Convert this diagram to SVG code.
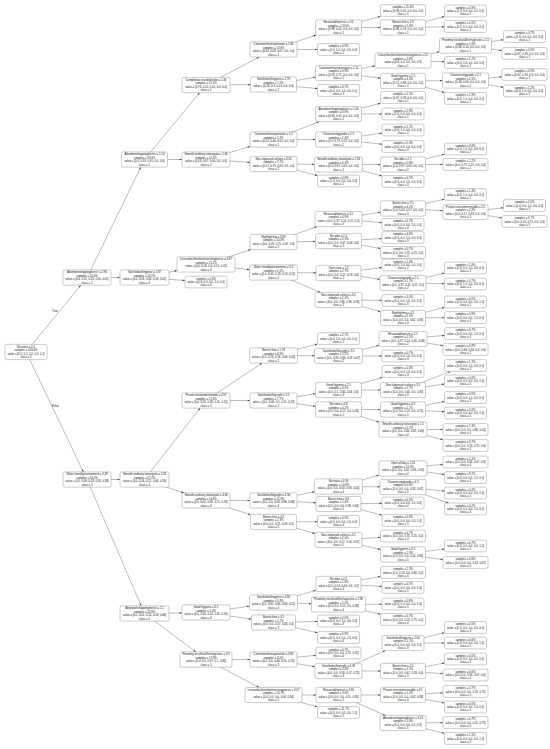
<svg xmlns="http://www.w3.org/2000/svg" width="550" height="749" viewBox="0 0 550 749">
<style>
.n rect{fill:#fff;stroke:#8a8a8a;stroke-width:.45}
text{font-family:"Liberation Sans",Arial,Helvetica,sans-serif;font-size:2.8px;text-anchor:middle;fill:#111}
#edges path{fill:none;stroke:#555;stroke-width:.4;marker-end:url(#ah)}
</style>
<defs>
<marker id="ah" markerUnits="userSpaceOnUse" markerWidth="3" markerHeight="2" refX="2.4" refY="0.8" orient="auto" overflow="visible"><path d="M0,0L2.4,0.8L0,1.6z" fill="#333"/></marker>
</defs>
<rect width="550" height="749" fill="#fff"/>
<g id="edges">
<path d="M26,352L80.8,285.1"/><path d="M26,352L83.4,471.9"/>
<path d="M87,277.5L140.8,167.1"/><path d="M87,277.5L120,277.5"/><path d="M87,479.5L120,479.5"/><path d="M87,479.5L141.2,605.9"/>
<path d="M144.5,159.5L199.7,92.6"/><path d="M144.5,159.5L182,159.5"/><path d="M144.5,277.5L177,270.6"/><path d="M144.5,277.5L185,280.5"/>
<path d="M144.5,479.5L200.1,408.1"/><path d="M144.5,479.5L183.7,492.9"/><path d="M144.5,613.5L182,612.9"/><path d="M144.5,613.5L195.8,651.9"/>
<path d="M206,85L259.1,57.1"/><path d="M206,85L250.5,84.7"/><path d="M206,159.5L250,146.5"/><path d="M206,159.5L250,162.4"/>
<path d="M206,264.5L250.7,249.6"/><path d="M206,264.5L249.5,269.7"/><path d="M206,400.5L262.1,363.1"/><path d="M206,400.5L250,400.5"/>
<path d="M206,500.5L250,500.5"/><path d="M206,500.5L250.5,514.7"/><path d="M206,612.5L249.5,606.1"/><path d="M206,612.5L251.5,619.2"/>
<path d="M206,659.5L250,659.5"/><path d="M206,659.5L259.1,687.4"/>
<path d="M273.5,49.5L316.1,35.1"/><path d="M273.5,49.5L317.5,49.5"/><path d="M273.5,84.5L315.5,77.1"/><path d="M273.5,84.5L317.5,88.6"/>
<path d="M273.5,139.5L319.1,121.6"/><path d="M273.5,139.5L315.5,139.5"/><path d="M273.5,164L314.5,164.3"/><path d="M273.5,164L317.5,175.5"/>
<path d="M273.5,242L317,226.6"/><path d="M273.5,242L315.5,241.4"/><path d="M273.5,272.5L316,272.8"/><path d="M273.5,272.5L320.5,292.4"/>
<path d="M273.5,355.5L317.5,344"/><path d="M273.5,355.5L314.5,355.8"/><path d="M273.5,400.5L315.5,393.7"/><path d="M273.5,400.5L315.5,406.3"/>
<path d="M273.5,500.5L314.5,491.7"/><path d="M273.5,500.5L316,502.8"/><path d="M273.5,522L317.5,521.7"/><path d="M273.5,522L315,533.5"/>
<path d="M273.5,602.5L316,590.4"/><path d="M273.5,602.5L311.5,603.7"/><path d="M273.5,622.5L317.5,621.5"/><path d="M273.5,622.5L317.5,632.7"/>
<path d="M273.5,659.5L316,655.3"/><path d="M273.5,659.5L315,666.8"/><path d="M273.5,695L316,695"/><path d="M273.5,695L317.5,706.9"/>
<path d="M338.5,27.5L380.6,16.4"/><path d="M338.5,27.5L380.5,27.5"/><path d="M338.5,73L375,65.9"/><path d="M338.5,73L380.5,78.2"/>
<path d="M338.5,114L380.5,103.3"/><path d="M338.5,114L382,114"/><path d="M338.5,139.5L382,133.1"/><path d="M338.5,139.5L382,144.2"/>
<path d="M338.5,164.5L380.5,164.5"/><path d="M338.5,164.5L382,176"/><path d="M338.5,219L380.5,212.2"/><path d="M338.5,219L382,222.7"/>
<path d="M338.5,241L382,238.6"/><path d="M338.5,241L380.5,248.5"/><path d="M338.5,273L382,267.6"/><path d="M338.5,273L380,279.4"/>
<path d="M338.5,300L382,300.3"/><path d="M338.5,300L380.5,311.7"/><path d="M338.5,356L379,345.3"/><path d="M338.5,356L382,356"/>
<path d="M338.5,390L382.4,377.4"/><path d="M338.5,390L380.5,390"/><path d="M338.5,409.5L380.5,409.5"/><path d="M338.5,409.5L379,422.1"/>
<path d="M338.5,486.5L379,475.2"/><path d="M338.5,486.5L380,486.8"/><path d="M338.5,504L382,503.3"/><path d="M338.5,504L382,515.1"/>
<path d="M338.5,540L380.5,537.4"/><path d="M338.5,540L380.5,549.4"/><path d="M338.5,584L380.5,576.5"/><path d="M338.5,584L382,586.4"/>
<path d="M338.5,604.5L382,604.2"/><path d="M338.5,604.5L380.5,614.3"/><path d="M338.5,671L385.5,650.6"/><path d="M338.5,671L380.5,671"/>
<path d="M338.5,695L380.5,695"/><path d="M338.5,695L385.5,715.4"/>
<path d="M403,27.5L444.5,16.5"/><path d="M403,27.5L444.5,26.8"/><path d="M403,60.5L439.5,51.7"/><path d="M403,60.5L444.5,61.8"/>
<path d="M403,81L442.5,80.7"/><path d="M403,81L444.5,92.6"/><path d="M403,164.5L444.5,154.2"/><path d="M403,164.5L443,164.5"/>
<path d="M403,208.5L444.5,199.2"/><path d="M403,208.5L443,210.7"/><path d="M403,283L444.5,273"/><path d="M403,283L444.5,283.7"/>
<path d="M403,318L444.5,307.4"/><path d="M403,318L444.5,317.7"/><path d="M403,339L444.5,335.4"/><path d="M403,339L443,345.7"/>
<path d="M403,390L450.4,371.4"/><path d="M403,390L444.5,384"/><path d="M403,409.5L444.5,401.5"/><path d="M403,409.5L444.5,411.8"/>
<path d="M403,429.5L443,429.5"/><path d="M403,429.5L443,439.7"/><path d="M403,468.5L443,464.3"/><path d="M403,468.5L444.5,474.5"/>
<path d="M403,487L444.5,491"/><path d="M403,487L448.8,503.1"/><path d="M403,554.5L444.5,548.9"/><path d="M403,554.5L443,559.6"/>
<path d="M403,643L444.5,632.7"/><path d="M403,643L444.5,643"/><path d="M403,671L444.5,663"/><path d="M403,671L443,673.6"/>
<path d="M403,695L443,692.8"/><path d="M403,695L444.5,703"/><path d="M403,723L443,722.7"/><path d="M403,723L444.5,733.3"/>
<path d="M465.5,45.5L503.5,39.7"/><path d="M465.5,45.5L502,50.5"/><path d="M465.5,80.5L502,76.8"/><path d="M465.5,80.5L503.5,87.3"/>
<path d="M465.5,212L503.5,207.8"/><path d="M465.5,212L502,217.9"/>
<text x="55" y="312">True</text>
<text x="55.5" y="407">False</text>
</g>

<g id="R" class="n" transform="translate(26,352)"><rect x="-21" y="-7.6" width="42" height="15.2" rx="1.8"/><text y="-4.04">No noise ≤ 2.4</text><text y="-0.68">samples = 100.0%</text><text y="2.68">value = [0.2, 0.2, 0.2, 0.2, 0.2]</text><text y="6.04">class = 2</text></g>

<g id="A" class="n" transform="translate(87,277.5)"><rect x="-24" y="-7.6" width="48" height="15.2" rx="1.8"/><text y="-4.04">Abundantshoppingdistrict ≤ 2.96</text><text y="-0.68">samples = 50.0%</text><text y="2.68">value = [0.4, 0.31, 0.22, 0.05, 0.01]</text><text y="6.04">class = 1</text></g>
<g id="B" class="n" transform="translate(87,479.5)"><rect x="-24" y="-7.6" width="48" height="15.2" rx="1.8"/><text y="-4.04">Water friendlyenvironment ≤ 3.28</text><text y="-0.68">samples = 50.0%</text><text y="2.68">value = [0.0, 0.09, 0.18, 0.35, 0.38]</text><text y="6.04">class = 5</text></g>

<g id="A1" class="n" transform="translate(144.5,159.5)"><rect x="-23" y="-7.6" width="46" height="15.2" rx="1.8"/><text y="-4.04">Abundantshoppingdistrict ≤ 1.16</text><text y="-0.68">samples = 33.9%</text><text y="2.68">value = [0.6, 0.35, 0.05, 0.0, 0.0]</text><text y="6.04">class = 1</text></g>
<g id="A2" class="n" transform="translate(144.5,277.5)"><rect x="-24.5" y="-7.6" width="49" height="15.2" rx="1.8"/><text y="-4.04">Satisfiedsellingprice ≤ 3.37</text><text y="-0.68">samples = 16.1%</text><text y="2.68">value = [0.0, 0.26, 0.56, 0.16, 0.02]</text><text y="6.04">class = 3</text></g>
<g id="B1" class="n" transform="translate(144.5,479.5)"><rect x="-24.5" y="-7.6" width="49" height="15.2" rx="1.8"/><text y="-4.04">Smooth andeasy tonavigate ≤ 2.43</text><text y="-0.68">samples = 27.2%</text><text y="2.68">value = [0.0, 0.16, 0.21, 0.46, 0.16]</text><text y="6.04">class = 4</text></g>
<g id="B2" class="n" transform="translate(144.5,613.5)"><rect x="-24.5" y="-7.6" width="49" height="15.2" rx="1.8"/><text y="-4.04">Abundantshoppingdistrict ≤ 2.1</text><text y="-0.68">samples = 22.8%</text><text y="2.68">value = [0.0, 0.01, 0.14, 0.18, 0.66]</text><text y="6.04">class = 5</text></g>

<g id="A1a" class="n" transform="translate(206,85)"><rect x="-24" y="-7.6" width="48" height="15.2" rx="1.8"/><text y="-4.04">Completeaccessibilitiesfor ≤ 1.46</text><text y="-0.68">samples = 21.4%</text><text y="2.68">value = [0.76, 0.22, 0.02, 0.0, 0.0]</text><text y="6.04">class = 1</text></g>
<g id="A1b" class="n" transform="translate(206,159.5)"><rect x="-24" y="-7.6" width="48" height="15.2" rx="1.8"/><text y="-4.04">Smooth andeasy tonavigate ≤ 1.46</text><text y="-0.68">samples = 12.5%</text><text y="2.68">value = [0.26, 0.67, 0.06, 0.0, 0.0]</text><text y="6.04">class = 2</text></g>
<g id="A2a" class="n" transform="translate(206,264.5)"><rect x="-29" y="-7.6" width="58" height="15.2" rx="1.8"/><text y="-4.04">Leisurefacilitiesforinterestingpieces ≤ 3.07</text><text y="-0.68">samples = 15.2%</text><text y="2.68">value = [0.0, 0.28, 0.6, 0.11, 0.01]</text><text y="6.04">class = 3</text></g>
<g id="A2b" class="n" transform="translate(206,282)"><rect x="-21" y="-5.9" width="42" height="11.8" rx="1.8"/><text y="-2.36">samples = 0.9%</text><text y="1">value = [0.0, 0.0, 0.0, 1.0, 0.0]</text><text y="4.36">class = 4</text></g>
<g id="B1a" class="n" transform="translate(206,400.5)"><rect x="-24" y="-7.6" width="48" height="15.2" rx="1.8"/><text y="-4.04">Private environmentstable ≤ 2.97</text><text y="-0.68">samples = 12.6%</text><text y="2.68">value = [0.0, 0.31, 0.38, 0.16, 0.15]</text><text y="6.04">class = 3</text></g>
<g id="B1b" class="n" transform="translate(206,500.5)"><rect x="-24" y="-7.6" width="48" height="15.2" rx="1.8"/><text y="-4.04">Smooth andeasy tonavigate ≤ 4.36</text><text y="-0.68">samples = 14.6%</text><text y="2.68">value = [0.0, 0.02, 0.06, 0.75, 0.18]</text><text y="6.04">class = 4</text></g>
<g id="B2a" class="n" transform="translate(206,612.5)"><rect x="-24" y="-7.6" width="48" height="15.2" rx="1.8"/><text y="-4.04">Good hygiene ≤ 4.5</text><text y="-0.68">samples = 5.0%</text><text y="2.68">value = [0.0, 0.05, 0.14, 0.65, 0.16]</text><text y="6.04">class = 4</text></g>
<g id="B2b" class="n" transform="translate(206,659.5)"><rect x="-26" y="-7.6" width="52" height="15.2" rx="1.8"/><text y="-4.04">Proximity tocultural/heritagesites ≤ 3.3</text><text y="-0.68">samples = 17.8%</text><text y="2.68">value = [0.0, 0.0, 0.07, 0.1, 0.82]</text><text y="6.04">class = 5</text></g>

<g id="N1" class="n" transform="translate(273.5,49.5)"><rect x="-23.5" y="-7.6" width="47" height="15.2" rx="1.8"/><text y="-4.04">Convenienttransportation ≤ 1.86</text><text y="-0.68">samples = 13.9%</text><text y="2.68">value = [0.92, 0.08, 0.01, 0.0, 0.0]</text><text y="6.04">class = 1</text></g>
<g id="N2" class="n" transform="translate(273.5,84.5)"><rect x="-23" y="-7.6" width="46" height="15.2" rx="1.8"/><text y="-4.04">Satisfiedsellingprice ≤ 2.79</text><text y="-0.68">samples = 7.5%</text><text y="2.68">value = [0.26, 0.6, 0.14, 0.0, 0.0]</text><text y="6.04">class = 2</text></g>
<g id="N3" class="n" transform="translate(273.5,139.5)"><rect x="-23.5" y="-7.6" width="47" height="15.2" rx="1.8"/><text y="-4.04">Convenienttransportation ≤ 1.5</text><text y="-0.68">samples = 5.3%</text><text y="2.68">value = [0.52, 0.46, 0.02, 0.0, 0.0]</text><text y="6.04">class = 1</text></g>
<g id="N4" class="n" transform="translate(273.5,164)"><rect x="-23.5" y="-7.6" width="47" height="15.2" rx="1.8"/><text y="-4.04">Non-slipproad surface ≤ 3.33</text><text y="-0.68">samples = 7.2%</text><text y="2.68">value = [0.12, 0.79, 0.09, 0.0, 0.0]</text><text y="6.04">class = 2</text></g>
<g id="N5" class="n" transform="translate(273.5,242)"><rect x="-23.5" y="-7.6" width="47" height="15.2" rx="1.8"/><text y="-4.04">Nightlighting ≤ 3.99</text><text y="-0.68">samples = 10.3%</text><text y="2.68">value = [0.0, 0.18, 0.75, 0.07, 0.0]</text><text y="6.04">class = 3</text></g>
<g id="N6" class="n" transform="translate(273.5,272.5)"><rect x="-24" y="-7.6" width="48" height="15.2" rx="1.8"/><text y="-4.04">Water friendlyenvironment ≤ 3.5</text><text y="-0.68">samples = 5.1%</text><text y="2.68">value = [0.0, 0.42, 0.28, 0.19, 0.11]</text><text y="6.04">class = 2</text></g>
<g id="N7" class="n" transform="translate(273.5,355.5)"><rect x="-24" y="-7.6" width="48" height="15.2" rx="1.8"/><text y="-4.04">Barrier-free ≤ 1.73</text><text y="-0.68">samples = 4.9%</text><text y="2.68">value = [0.0, 0.73, 0.16, 0.08, 0.03]</text><text y="6.04">class = 2</text></g>
<g id="N8" class="n" transform="translate(273.5,400.5)"><rect x="-23.5" y="-7.6" width="47" height="15.2" rx="1.8"/><text y="-4.04">Satisfiedsellingsight ≤ 3.5</text><text y="-0.68">samples = 7.7%</text><text y="2.68">value = [0.0, 0.06, 0.5, 0.21, 0.23]</text><text y="6.04">class = 3</text></g>
<g id="N9" class="n" transform="translate(273.5,500.5)"><rect x="-23.5" y="-7.6" width="47" height="15.2" rx="1.8"/><text y="-4.04">Satisfiedsellingsight ≤ 4.36</text><text y="-0.68">samples = 12.3%</text><text y="2.68">value = [0.0, 0.0, 0.03, 0.89, 0.08]</text><text y="6.04">class = 4</text></g>
<g id="N10" class="n" transform="translate(273.5,522)"><rect x="-23" y="-7.6" width="46" height="15.2" rx="1.8"/><text y="-4.04">Barrier-free ≤ 4.5</text><text y="-0.68">samples = 2.3%</text><text y="2.68">value = [0.0, 0.0, 0.21, 0.29, 0.5]</text><text y="6.04">class = 5</text></g>
<g id="N11" class="n" transform="translate(273.5,602.5)"><rect x="-24" y="-7.6" width="48" height="15.2" rx="1.8"/><text y="-4.04">Satisfiedsellingprice ≤ 4.92</text><text y="-0.68">samples = 3.3%</text><text y="2.68">value = [0.0, 0.05, 0.06, 0.68, 0.21]</text><text y="6.04">class = 4</text></g>
<g id="N12" class="n" transform="translate(273.5,622.5)"><rect x="-22" y="-7.6" width="44" height="15.2" rx="1.8"/><text y="-4.04">Barrier-free ≤ 4.5</text><text y="-0.68">samples = 1.7%</text><text y="2.68">value = [0.0, 0.0, 0.57, 0.43, 0.0]</text><text y="6.04">class = 3</text></g>
<g id="N13" class="n" transform="translate(273.5,659.5)"><rect x="-23.5" y="-7.6" width="47" height="15.2" rx="1.8"/><text y="-4.04">Convenienttransportation ≤ 3.85</text><text y="-0.68">samples = 3.0%</text><text y="2.68">value = [0.0, 0.0, 0.44, 0.31, 0.25]</text><text y="6.04">class = 3</text></g>
<g id="N14" class="n" transform="translate(273.5,695)"><rect x="-28.5" y="-7.6" width="57" height="15.2" rx="1.8"/><text y="-4.04">Leisurefacilitiesforinterestingpieces ≤ 3.07</text><text y="-0.68">samples = 14.7%</text><text y="2.68">value = [0.0, 0.0, 0.0, 0.06, 0.94]</text><text y="6.04">class = 5</text></g>

<g id="N1a" class="n" transform="translate(338.5,27.5)"><rect x="-23" y="-7.6" width="46" height="15.2" rx="1.8"/><text y="-4.04">Reasonableprices ≤ 1.6</text><text y="-0.68">samples = 13.0%</text><text y="2.68">value = [0.98, 0.02, 0.0, 0.0, 0.0]</text><text y="6.04">class = 1</text></g>
<g id="L5a" class="n" transform="translate(338.5,49.5)"><rect x="-21" y="-5.9" width="42" height="11.8" rx="1.8"/><text y="-2.36">samples = 0.9%</text><text y="1">value = [0.0, 1.0, 0.0, 0.0, 0.0]</text><text y="4.36">class = 2</text></g>
<g id="N2a" class="n" transform="translate(338.5,73)"><rect x="-23" y="-7.6" width="46" height="15.2" rx="1.8"/><text y="-4.04">Convenienttransportation ≤ 1.11</text><text y="-0.68">samples = 6.8%</text><text y="2.68">value = [0.29, 0.71, 0.0, 0.0, 0.0]</text><text y="6.04">class = 2</text></g>
<g id="L5b" class="n" transform="translate(338.5,90.5)"><rect x="-21" y="-5.9" width="42" height="11.8" rx="1.8"/><text y="-2.36">samples = 0.7%</text><text y="1">value = [0.0, 0.0, 1.0, 0.0, 0.0]</text><text y="4.36">class = 3</text></g>
<g id="N3a" class="n" transform="translate(338.5,114)"><rect x="-23" y="-7.6" width="46" height="15.2" rx="1.8"/><text y="-4.04">Abundantshoppingdistrict ≤ 1.46</text><text y="-0.68">samples = 3.9%</text><text y="2.68">value = [0.95, 0.05, 0.0, 0.0, 0.0]</text><text y="6.04">class = 1</text></g>
<g id="N3b" class="n" transform="translate(338.5,139.5)"><rect x="-23" y="-7.6" width="46" height="15.2" rx="1.8"/><text y="-4.04">Cleanservinggoods ≤ 2.5</text><text y="-0.68">samples = 1.4%</text><text y="2.68">value = [0.0, 0.78, 0.22, 0.0, 0.0]</text><text y="6.04">class = 2</text></g>
<g id="N4a" class="n" transform="translate(338.5,164.5)"><rect x="-24" y="-7.6" width="48" height="15.2" rx="1.8"/><text y="-4.04">Smooth andeasy tonavigate ≤ 2.56</text><text y="-0.68">samples = 6.3%</text><text y="2.68">value = [0.0, 0.91, 0.09, 0.0, 0.0]</text><text y="6.04">class = 2</text></g>
<g id="L5c" class="n" transform="translate(338.5,181)"><rect x="-21" y="-5.9" width="42" height="11.8" rx="1.8"/><text y="-2.36">samples = 0.9%</text><text y="1">value = [1.0, 0.0, 0.0, 0.0, 0.0]</text><text y="4.36">class = 1</text></g>
<g id="N5a" class="n" transform="translate(338.5,219)"><rect x="-23.5" y="-7.6" width="47" height="15.2" rx="1.8"/><text y="-4.04">Reasonableprices ≤ 3.5</text><text y="-0.68">samples = 4.9%</text><text y="2.68">value = [0.0, 0.37, 0.52, 0.11, 0.0]</text><text y="6.04">class = 3</text></g>
<g id="N5b" class="n" transform="translate(338.5,241)"><rect x="-23" y="-7.6" width="46" height="15.2" rx="1.8"/><text y="-4.04">No odor ≤ 2.5</text><text y="-0.68">samples = 5.3%</text><text y="2.68">value = [0.0, 0.0, 0.97, 0.03, 0.0]</text><text y="6.04">class = 3</text></g>
<g id="N6a" class="n" transform="translate(338.5,273)"><rect x="-22.5" y="-7.6" width="45" height="15.2" rx="1.8"/><text y="-4.04">Open view ≤ 1.5</text><text y="-0.68">samples = 2.7%</text><text y="2.68">value = [0.0, 0.6, 0.27, 0.13, 0.0]</text><text y="6.04">class = 2</text></g>
<g id="N6b" class="n" transform="translate(338.5,300)"><rect x="-23.5" y="-7.6" width="47" height="15.2" rx="1.8"/><text y="-4.04">Non-slipproad surface ≤ 3.0</text><text y="-0.68">samples = 2.4%</text><text y="2.68">value = [0.0, 0.0, 0.38, 0.36, 0.26]</text><text y="6.04">class = 3</text></g>
<g id="L5d" class="n" transform="translate(338.5,338.5)"><rect x="-21" y="-5.9" width="42" height="11.8" rx="1.8"/><text y="-2.36">samples = 2.7%</text><text y="1">value = [0.0, 1.0, 0.0, 0.0, 0.0]</text><text y="4.36">class = 2</text></g>
<g id="N7b" class="n" transform="translate(338.5,356)"><rect x="-24" y="-7.6" width="48" height="15.2" rx="1.8"/><text y="-4.04">Satisfiedsellingsight ≤ 3.5</text><text y="-0.68">samples = 2.2%</text><text y="2.68">value = [0.0, 0.39, 0.36, 0.18, 0.07]</text><text y="6.04">class = 2</text></g>
<g id="N8a" class="n" transform="translate(338.5,390)"><rect x="-23" y="-7.6" width="46" height="15.2" rx="1.8"/><text y="-4.04">Good hygiene ≤ 2.5</text><text y="-0.68">samples = 3.5%</text><text y="2.68">value = [0.0, 0.1, 0.84, 0.06, 0.0]</text><text y="6.04">class = 3</text></g>
<g id="N8b" class="n" transform="translate(338.5,409.5)"><rect x="-23" y="-7.6" width="46" height="15.2" rx="1.8"/><text y="-4.04">No noise ≤ 4.8</text><text y="-0.68">samples = 4.2%</text><text y="2.68">value = [0.0, 0.0, 0.17, 0.4, 0.43]</text><text y="6.04">class = 5</text></g>
<g id="N9a" class="n" transform="translate(338.5,486.5)"><rect x="-24" y="-7.6" width="48" height="15.2" rx="1.8"/><text y="-4.04">No noise ≤ 4.56</text><text y="-0.68">samples = 10.9%</text><text y="2.68">value = [0.0, 0.0, 0.03, 0.93, 0.04]</text><text y="6.04">class = 4</text></g>
<g id="N9b" class="n" transform="translate(338.5,504)"><rect x="-22.5" y="-7.6" width="45" height="15.2" rx="1.8"/><text y="-4.04">Barrier-free ≤ 3.6</text><text y="-0.68">samples = 1.4%</text><text y="2.68">value = [0.0, 0.0, 0.0, 0.36, 0.64]</text><text y="6.04">class = 5</text></g>
<g id="L5e" class="n" transform="translate(338.5,521.5)"><rect x="-21" y="-5.9" width="42" height="11.8" rx="1.8"/><text y="-2.36">samples = 0.5%</text><text y="1">value = [0.0, 0.0, 0.0, 1.0, 0.0]</text><text y="4.36">class = 4</text></g>
<g id="N10b" class="n" transform="translate(338.5,540)"><rect x="-23.5" y="-7.6" width="47" height="15.2" rx="1.8"/><text y="-4.04">Non-slipproad surface ≤ 3.5</text><text y="-0.68">samples = 2.0%</text><text y="2.68">value = [0.0, 0.0, 0.27, 0.16, 0.57]</text><text y="6.04">class = 5</text></g>
<g id="N11a" class="n" transform="translate(338.5,584)"><rect x="-22.5" y="-7.6" width="45" height="15.2" rx="1.8"/><text y="-4.04">No odor ≤ 4.5</text><text y="-0.68">samples = 1.8%</text><text y="2.68">value = [0.0, 0.14, 0.06, 0.6, 0.2]</text><text y="6.04">class = 4</text></g>
<g id="N11b" class="n" transform="translate(338.5,604.5)"><rect x="-27" y="-7.6" width="54" height="15.2" rx="1.8"/><text y="-4.04">Proximity tocultural/heritagesites ≤ 1.36</text><text y="-0.68">samples = 1.5%</text><text y="2.68">value = [0.0, 0.0, 0.12, 0.5, 0.38]</text><text y="6.04">class = 4</text></g>
<g id="L5f" class="n" transform="translate(338.5,621)"><rect x="-21" y="-5.9" width="42" height="11.8" rx="1.8"/><text y="-2.36">samples = 0.9%</text><text y="1">value = [0.0, 0.0, 1.0, 0.0, 0.0]</text><text y="4.36">class = 3</text></g>
<g id="L5g" class="n" transform="translate(338.5,637.5)"><rect x="-21" y="-5.9" width="42" height="11.8" rx="1.8"/><text y="-2.36">samples = 0.8%</text><text y="1">value = [0.0, 0.0, 0.0, 1.0, 0.0]</text><text y="4.36">class = 4</text></g>
<g id="L5h" class="n" transform="translate(338.5,653)"><rect x="-22.5" y="-5.9" width="45" height="11.8" rx="1.8"/><text y="-2.36">samples = 0.7%</text><text y="1">value = [0.0, 0.0, 0.0, 0.75, 0.25]</text><text y="4.36">class = 4</text></g>
<g id="N13b" class="n" transform="translate(338.5,671)"><rect x="-23.5" y="-7.6" width="47" height="15.2" rx="1.8"/><text y="-4.04">Satisfiedsellingsight ≤ 4.36</text><text y="-0.68">samples = 2.3%</text><text y="2.68">value = [0.0, 0.0, 0.58, 0.17, 0.25]</text><text y="6.04">class = 3</text></g>
<g id="N14a" class="n" transform="translate(338.5,695)"><rect x="-22.5" y="-7.6" width="45" height="15.2" rx="1.8"/><text y="-4.04">Reasonableprices ≤ 4.96</text><text y="-0.68">samples = 3.0%</text><text y="2.68">value = [0.0, 0.0, 0.0, 0.15, 0.85]</text><text y="6.04">class = 5</text></g>
<g id="L5i" class="n" transform="translate(338.5,712.5)"><rect x="-21" y="-5.9" width="42" height="11.8" rx="1.8"/><text y="-2.36">samples = 11.7%</text><text y="1">value = [0.0, 0.0, 0.0, 0.0, 1.0]</text><text y="4.36">class = 5</text></g>

<g id="L6a" class="n" transform="translate(403,10.5)"><rect x="-22.5" y="-5.9" width="45" height="11.8" rx="1.8"/><text y="-2.36">samples = 11.6%</text><text y="1">value = [0.99, 0.01, 0.0, 0.0, 0.0]</text><text y="4.36">class = 1</text></g>
<g id="N1a2" class="n" transform="translate(403,27.5)"><rect x="-22.5" y="-7.6" width="45" height="15.2" rx="1.8"/><text y="-4.04">Barrier-free ≤ 1.6</text><text y="-0.68">samples = 1.4%</text><text y="2.68">value = [0.86, 0.14, 0.0, 0.0, 0.0]</text><text y="6.04">class = 1</text></g>
<g id="N2a1" class="n" transform="translate(403,60.5)"><rect x="-28" y="-7.6" width="56" height="15.2" rx="1.8"/><text y="-4.04">Leisurefacilitiesforinterestingpieces ≤ 2.5</text><text y="-0.68">samples = 2.8%</text><text y="2.68">value = [0.6, 0.4, 0.0, 0.0, 0.0]</text><text y="6.04">class = 1</text></g>
<g id="N2a2" class="n" transform="translate(403,81)"><rect x="-22.5" y="-7.6" width="45" height="15.2" rx="1.8"/><text y="-4.04">Good hygiene ≤ 1.5</text><text y="-0.68">samples = 4.0%</text><text y="2.68">value = [0.12, 0.88, 0.0, 0.0, 0.0]</text><text y="6.04">class = 2</text></g>
<g id="L6b" class="n" transform="translate(403,97.5)"><rect x="-22.5" y="-5.9" width="45" height="11.8" rx="1.8"/><text y="-2.36">samples = 1.1%</text><text y="1">value = [0.67, 0.33, 0.0, 0.0, 0.0]</text><text y="4.36">class = 1</text></g>
<g id="L6c" class="n" transform="translate(403,114)"><rect x="-21" y="-5.9" width="42" height="11.8" rx="1.8"/><text y="-2.36">samples = 2.8%</text><text y="1">value = [1.0, 0.0, 0.0, 0.0, 0.0]</text><text y="4.36">class = 1</text></g>
<g id="L6d" class="n" transform="translate(403,130)"><rect x="-21" y="-5.9" width="42" height="11.8" rx="1.8"/><text y="-2.36">samples = 1.1%</text><text y="1">value = [0.0, 1.0, 0.0, 0.0, 0.0]</text><text y="4.36">class = 2</text></g>
<g id="L6e" class="n" transform="translate(403,146.5)"><rect x="-21" y="-5.9" width="42" height="11.8" rx="1.8"/><text y="-2.36">samples = 0.3%</text><text y="1">value = [0.0, 0.0, 1.0, 0.0, 0.0]</text><text y="4.36">class = 3</text></g>
<g id="N4a1" class="n" transform="translate(403,164.5)"><rect x="-22.5" y="-7.6" width="45" height="15.2" rx="1.8"/><text y="-4.04">No odor ≤ 2.1</text><text y="-0.68">samples = 5.8%</text><text y="2.68">value = [0.0, 0.97, 0.03, 0.0, 0.0]</text><text y="6.04">class = 2</text></g>
<g id="L6f" class="n" transform="translate(403,181.5)"><rect x="-21" y="-5.9" width="42" height="11.8" rx="1.8"/><text y="-2.36">samples = 0.5%</text><text y="1">value = [0.0, 0.0, 1.0, 0.0, 0.0]</text><text y="4.36">class = 3</text></g>
<g id="N5a1" class="n" transform="translate(403,208.5)"><rect x="-22.5" y="-7.6" width="45" height="15.2" rx="1.8"/><text y="-4.04">Barrier-free ≤ 2.5</text><text y="-0.68">samples = 4.2%</text><text y="2.68">value = [0.0, 0.43, 0.57, 0.0, 0.0]</text><text y="6.04">class = 3</text></g>
<g id="L6g" class="n" transform="translate(403,224.5)"><rect x="-21" y="-5.9" width="42" height="11.8" rx="1.8"/><text y="-2.36">samples = 0.7%</text><text y="1">value = [0.0, 0.0, 0.0, 1.0, 0.0]</text><text y="4.36">class = 4</text></g>
<g id="L6h" class="n" transform="translate(403,237.5)"><rect x="-21" y="-5.9" width="42" height="11.8" rx="1.8"/><text y="-2.36">samples = 4.6%</text><text y="1">value = [0.0, 0.0, 1.0, 0.0, 0.0]</text><text y="4.36">class = 3</text></g>
<g id="L6i" class="n" transform="translate(403,252.5)"><rect x="-22.5" y="-5.9" width="45" height="11.8" rx="1.8"/><text y="-2.36">samples = 0.7%</text><text y="1">value = [0.0, 0.0, 0.75, 0.25, 0.0]</text><text y="4.36">class = 3</text></g>
<g id="L6j" class="n" transform="translate(403,265)"><rect x="-21" y="-5.9" width="42" height="11.8" rx="1.8"/><text y="-2.36">samples = 1.0%</text><text y="1">value = [0.0, 1.0, 0.0, 0.0, 0.0]</text><text y="4.36">class = 2</text></g>
<g id="N6a2" class="n" transform="translate(403,283)"><rect x="-23" y="-7.6" width="46" height="15.2" rx="1.8"/><text y="-4.04">Cleanservinggoods ≤ 2.5</text><text y="-0.68">samples = 1.7%</text><text y="2.68">value = [0.0, 0.37, 0.31, 0.31, 0.0]</text><text y="6.04">class = 2</text></g>
<g id="L6k" class="n" transform="translate(403,300.5)"><rect x="-21" y="-5.9" width="42" height="11.8" rx="1.8"/><text y="-2.36">samples = 1.0%</text><text y="1">value = [0.0, 0.0, 1.0, 0.0, 0.0]</text><text y="4.36">class = 3</text></g>
<g id="N6b2" class="n" transform="translate(403,318)"><rect x="-22.5" y="-7.6" width="45" height="15.2" rx="1.8"/><text y="-4.04">Nightlighting ≤ 4.5</text><text y="-0.68">samples = 1.4%</text><text y="2.68">value = [0.0, 0.0, 0.0, 0.62, 0.38]</text><text y="6.04">class = 4</text></g>
<g id="N7b1" class="n" transform="translate(403,339)"><rect x="-24" y="-7.6" width="48" height="15.2" rx="1.8"/><text y="-4.04">Reasonableprices ≤ 2.5</text><text y="-0.68">samples = 1.5%</text><text y="2.68">value = [0.0, 0.57, 0.14, 0.26, 0.03]</text><text y="6.04">class = 2</text></g>
<g id="L6l" class="n" transform="translate(403,356)"><rect x="-21" y="-5.9" width="42" height="11.8" rx="1.8"/><text y="-2.36">samples = 0.7%</text><text y="1">value = [0.0, 0.0, 1.0, 0.0, 0.0]</text><text y="4.36">class = 3</text></g>
<g id="L6m" class="n" transform="translate(403,371.5)"><rect x="-21" y="-5.9" width="42" height="11.8" rx="1.8"/><text y="-2.36">samples = 1.8%</text><text y="1">value = [0.0, 0.0, 1.0, 0.0, 0.0]</text><text y="4.36">class = 3</text></g>
<g id="N8a2" class="n" transform="translate(403,390)"><rect x="-22.5" y="-7.6" width="45" height="15.2" rx="1.8"/><text y="-4.04">Non-slipproad surface ≤ 3.5</text><text y="-0.68">samples = 1.7%</text><text y="2.68">value = [0.0, 0.0, 0.65, 0.0, 0.35]</text><text y="6.04">class = 3</text></g>
<g id="N8b1" class="n" transform="translate(403,409.5)"><rect x="-22.5" y="-7.6" width="45" height="15.2" rx="1.8"/><text y="-4.04">Good hygiene ≤ 4.2</text><text y="-0.68">samples = 2.1%</text><text y="2.68">value = [0.0, 0.0, 0.25, 0.0, 0.75]</text><text y="6.04">class = 5</text></g>
<g id="N8b2" class="n" transform="translate(403,429.5)"><rect x="-24" y="-7.6" width="48" height="15.2" rx="1.8"/><text y="-4.04">Smooth andeasy tonavigate ≤ 1.5</text><text y="-0.68">samples = 2.1%</text><text y="2.68">value = [0.0, 0.0, 0.09, 0.82, 0.09]</text><text y="6.04">class = 4</text></g>
<g id="N9a1" class="n" transform="translate(403,468.5)"><rect x="-24" y="-7.6" width="48" height="15.2" rx="1.8"/><text y="-4.04">Open all day ≤ 2.21</text><text y="-0.68">samples = 10.3%</text><text y="2.68">value = [0.0, 0.0, 0.02, 0.96, 0.02]</text><text y="6.04">class = 4</text></g>
<g id="N9a2" class="n" transform="translate(403,487)"><rect x="-23" y="-7.6" width="46" height="15.2" rx="1.8"/><text y="-4.04">Cleanservinggoods ≤ 4.5</text><text y="-0.68">samples = 0.6%</text><text y="2.68">value = [0.0, 0.0, 0.0, 0.33, 0.67]</text><text y="6.04">class = 5</text></g>
<g id="L6n" class="n" transform="translate(403,503)"><rect x="-21" y="-5.9" width="42" height="11.8" rx="1.8"/><text y="-2.36">samples = 0.5%</text><text y="1">value = [0.0, 0.0, 0.0, 1.0, 0.0]</text><text y="4.36">class = 4</text></g>
<g id="L6o" class="n" transform="translate(403,520.5)"><rect x="-21" y="-5.9" width="42" height="11.8" rx="1.8"/><text y="-2.36">samples = 0.9%</text><text y="1">value = [0.0, 0.0, 0.0, 0.0, 1.0]</text><text y="4.36">class = 5</text></g>
<g id="L6p" class="n" transform="translate(403,536)"><rect x="-22.5" y="-5.9" width="45" height="11.8" rx="1.8"/><text y="-2.36">samples = 0.7%</text><text y="1">value = [0.0, 0.0, 0.75, 0.25, 0.0]</text><text y="4.36">class = 3</text></g>
<g id="N10b2" class="n" transform="translate(403,554.5)"><rect x="-22.5" y="-7.6" width="45" height="15.2" rx="1.8"/><text y="-4.04">Good hygiene ≤ 3.5</text><text y="-0.68">samples = 1.3%</text><text y="2.68">value = [0.0, 0.0, 0.0, 0.14, 0.86]</text><text y="6.04">class = 5</text></g>
<g id="L6q" class="n" transform="translate(403,572.5)"><rect x="-22.5" y="-5.9" width="45" height="11.8" rx="1.8"/><text y="-2.36">samples = 1.3%</text><text y="1">value = [0.0, 0.14, 0.0, 0.86, 0.0]</text><text y="4.36">class = 4</text></g>
<g id="L6r" class="n" transform="translate(403,587.5)"><rect x="-21" y="-5.9" width="42" height="11.8" rx="1.8"/><text y="-2.36">samples = 0.5%</text><text y="1">value = [0.0, 0.0, 0.0, 0.0, 1.0]</text><text y="4.36">class = 5</text></g>
<g id="L6s" class="n" transform="translate(403,604)"><rect x="-21" y="-5.9" width="42" height="11.8" rx="1.8"/><text y="-2.36">samples = 0.8%</text><text y="1">value = [0.0, 0.0, 0.0, 0.0, 1.0]</text><text y="4.36">class = 5</text></g>
<g id="L6t" class="n" transform="translate(403,619.5)"><rect x="-22.5" y="-5.9" width="45" height="11.8" rx="1.8"/><text y="-2.36">samples = 0.7%</text><text y="1">value = [0.0, 0.0, 0.25, 0.75, 0.0]</text><text y="4.36">class = 4</text></g>
<g id="N13b1" class="n" transform="translate(403,643)"><rect x="-21" y="-7.6" width="42" height="15.2" rx="1.8"/><text y="-4.04">Satisfiedsellingprice ≤ 2.94</text><text y="-0.68">samples = 1.1%</text><text y="2.68">value = [0.0, 0.0, 0.5, 0.0, 0.5]</text><text y="6.04">class = 3</text></g>
<g id="N13b2" class="n" transform="translate(403,671)"><rect x="-22.5" y="-7.6" width="45" height="15.2" rx="1.8"/><text y="-4.04">Barrier-free ≤ 4.5</text><text y="-0.68">samples = 1.1%</text><text y="2.68">value = [0.0, 0.0, 0.67, 0.33, 0.0]</text><text y="6.04">class = 3</text></g>
<g id="N14a1" class="n" transform="translate(403,695)"><rect x="-22.5" y="-7.6" width="45" height="15.2" rx="1.8"/><text y="-4.04">Private environmentstable ≤ 4.5</text><text y="-0.68">samples = 1.2%</text><text y="2.68">value = [0.0, 0.0, 0.0, 0.62, 0.38]</text><text y="6.04">class = 4</text></g>
<g id="N14a2" class="n" transform="translate(403,723)"><rect x="-23" y="-7.6" width="46" height="15.2" rx="1.8"/><text y="-4.04">Abundantshoppingdistrict ≤ 3.24</text><text y="-0.68">samples = 1.8%</text><text y="2.68">value = [0.0, 0.0, 0.0, 0.1, 0.9]</text><text y="6.04">class = 5</text></g>

<g id="L7a" class="n" transform="translate(465.5,11)"><rect x="-21" y="-5.9" width="42" height="11.8" rx="1.8"/><text y="-2.36">samples = 0.9%</text><text y="1">value = [1.0, 0.0, 0.0, 0.0, 0.0]</text><text y="4.36">class = 1</text></g>
<g id="L7b" class="n" transform="translate(465.5,26.5)"><rect x="-21" y="-5.9" width="42" height="11.8" rx="1.8"/><text y="-2.36">samples = 0.5%</text><text y="1">value = [0.5, 0.5, 0.0, 0.0, 0.0]</text><text y="4.36">class = 1</text></g>
<g id="N2a1a" class="n" transform="translate(465.5,45.5)"><rect x="-26" y="-7.6" width="52" height="15.2" rx="1.8"/><text y="-4.04">Proximity tocultural/heritagesites ≤ 1.5</text><text y="-0.68">samples = 1.6%</text><text y="2.68">value = [0.86, 0.14, 0.0, 0.0, 0.0]</text><text y="6.04">class = 1</text></g>
<g id="L7c" class="n" transform="translate(465.5,62.5)"><rect x="-21" y="-5.9" width="42" height="11.8" rx="1.8"/><text y="-2.36">samples = 1.2%</text><text y="1">value = [0.0, 1.0, 0.0, 0.0, 0.0]</text><text y="4.36">class = 2</text></g>
<g id="N2a2a" class="n" transform="translate(465.5,80.5)"><rect x="-23" y="-7.6" width="46" height="15.2" rx="1.8"/><text y="-4.04">Cleanservinggoods ≤ 2.5</text><text y="-0.68">samples = 2.1%</text><text y="2.68">value = [0.34, 0.66, 0.0, 0.0, 0.0]</text><text y="6.04">class = 2</text></g>
<g id="L7d" class="n" transform="translate(465.5,98.5)"><rect x="-21" y="-5.9" width="42" height="11.8" rx="1.8"/><text y="-2.36">samples = 1.9%</text><text y="1">value = [0.0, 1.0, 0.0, 0.0, 0.0]</text><text y="4.36">class = 2</text></g>
<g id="L7e" class="n" transform="translate(465.5,149)"><rect x="-21" y="-5.9" width="42" height="11.8" rx="1.8"/><text y="-2.36">samples = 4.6%</text><text y="1">value = [0.0, 1.0, 0.0, 0.0, 0.0]</text><text y="4.36">class = 2</text></g>
<g id="L7f" class="n" transform="translate(465.5,164.5)"><rect x="-22.5" y="-5.9" width="45" height="11.8" rx="1.8"/><text y="-2.36">samples = 1.2%</text><text y="1">value = [0.0, 0.75, 0.25, 0.0, 0.0]</text><text y="4.36">class = 2</text></g>
<g id="L7g" class="n" transform="translate(465.5,194.5)"><rect x="-21" y="-5.9" width="42" height="11.8" rx="1.8"/><text y="-2.36">samples = 1.4%</text><text y="1">value = [0.0, 1.0, 0.0, 0.0, 0.0]</text><text y="4.36">class = 2</text></g>
<g id="N5a1b" class="n" transform="translate(465.5,212)"><rect x="-22.5" y="-7.6" width="45" height="15.2" rx="1.8"/><text y="-4.04">Private environmentstable ≤ 2.5</text><text y="-0.68">samples = 2.8%</text><text y="2.68">value = [0.0, 0.17, 0.83, 0.0, 0.0]</text><text y="6.04">class = 3</text></g>
<g id="L7h" class="n" transform="translate(465.5,268)"><rect x="-21" y="-5.9" width="42" height="11.8" rx="1.8"/><text y="-2.36">samples = 1.0%</text><text y="1">value = [0.0, 0.0, 1.0, 0.0, 0.0]</text><text y="4.36">class = 3</text></g>
<g id="L7i" class="n" transform="translate(465.5,284)"><rect x="-21" y="-5.9" width="42" height="11.8" rx="1.8"/><text y="-2.36">samples = 0.7%</text><text y="1">value = [0.0, 1.0, 0.0, 0.0, 0.0]</text><text y="4.36">class = 2</text></g>
<g id="L7j" class="n" transform="translate(465.5,302)"><rect x="-21" y="-5.9" width="42" height="11.8" rx="1.8"/><text y="-2.36">samples = 0.5%</text><text y="1">value = [0.0, 0.0, 0.0, 0.0, 1.0]</text><text y="4.36">class = 5</text></g>
<g id="L7k" class="n" transform="translate(465.5,317.5)"><rect x="-21" y="-5.9" width="42" height="11.8" rx="1.8"/><text y="-2.36">samples = 0.9%</text><text y="1">value = [0.0, 0.0, 0.0, 1.0, 0.0]</text><text y="4.36">class = 4</text></g>
<g id="L7l" class="n" transform="translate(465.5,333.5)"><rect x="-21" y="-5.9" width="42" height="11.8" rx="1.8"/><text y="-2.36">samples = 0.7%</text><text y="1">value = [0.0, 0.0, 0.0, 1.0, 0.0]</text><text y="4.36">class = 4</text></g>
<g id="L7m" class="n" transform="translate(465.5,349.5)"><rect x="-22.5" y="-5.9" width="45" height="11.8" rx="1.8"/><text y="-2.36">samples = 0.8%</text><text y="1">value = [0.0, 0.66, 0.34, 0.0, 0.0]</text><text y="4.36">class = 2</text></g>
<g id="L7n" class="n" transform="translate(465.5,365.5)"><rect x="-21" y="-5.9" width="42" height="11.8" rx="1.8"/><text y="-2.36">samples = 1.1%</text><text y="1">value = [0.0, 0.0, 1.0, 0.0, 0.0]</text><text y="4.36">class = 3</text></g>
<g id="L7o" class="n" transform="translate(465.5,381)"><rect x="-21" y="-5.9" width="42" height="11.8" rx="1.8"/><text y="-2.36">samples = 0.6%</text><text y="1">value = [0.0, 0.0, 0.0, 0.0, 1.0]</text><text y="4.36">class = 5</text></g>
<g id="L7p" class="n" transform="translate(465.5,397.5)"><rect x="-21" y="-5.9" width="42" height="11.8" rx="1.8"/><text y="-2.36">samples = 0.5%</text><text y="1">value = [0.0, 0.0, 1.0, 0.0, 0.0]</text><text y="4.36">class = 3</text></g>
<g id="L7q" class="n" transform="translate(465.5,413)"><rect x="-21" y="-5.9" width="42" height="11.8" rx="1.8"/><text y="-2.36">samples = 1.6%</text><text y="1">value = [0.0, 0.0, 0.0, 0.0, 1.0]</text><text y="4.36">class = 5</text></g>
<g id="L7r" class="n" transform="translate(465.5,429.5)"><rect x="-22.5" y="-5.9" width="45" height="11.8" rx="1.8"/><text y="-2.36">samples = 1.3%</text><text y="1">value = [0.0, 0.0, 0.0, 0.86, 0.14]</text><text y="4.36">class = 4</text></g>
<g id="L7s" class="n" transform="translate(465.5,445.5)"><rect x="-22.5" y="-5.9" width="45" height="11.8" rx="1.8"/><text y="-2.36">samples = 0.7%</text><text y="1">value = [0.0, 0.0, 0.25, 0.75, 0.0]</text><text y="4.36">class = 4</text></g>
<g id="L7t" class="n" transform="translate(465.5,462)"><rect x="-22.5" y="-5.9" width="45" height="11.8" rx="1.8"/><text y="-2.36">samples = 1.1%</text><text y="1">value = [0.0, 0.0, 0.33, 0.67, 0.0]</text><text y="4.36">class = 4</text></g>
<g id="L7u" class="n" transform="translate(465.5,477.5)"><rect x="-21" y="-5.9" width="42" height="11.8" rx="1.8"/><text y="-2.36">samples = 9.2%</text><text y="1">value = [0.0, 0.0, 0.0, 1.0, 0.0]</text><text y="4.36">class = 4</text></g>
<g id="L7v" class="n" transform="translate(465.5,493)"><rect x="-21" y="-5.9" width="42" height="11.8" rx="1.8"/><text y="-2.36">samples = 0.4%</text><text y="1">value = [0.0, 0.0, 0.0, 0.0, 1.0]</text><text y="4.36">class = 5</text></g>
<g id="L7w" class="n" transform="translate(465.5,509)"><rect x="-21" y="-5.9" width="42" height="11.8" rx="1.8"/><text y="-2.36">samples = 0.2%</text><text y="1">value = [0.0, 0.0, 0.0, 1.0, 0.0]</text><text y="4.36">class = 4</text></g>
<g id="L7x" class="n" transform="translate(465.5,546)"><rect x="-21" y="-5.9" width="42" height="11.8" rx="1.8"/><text y="-2.36">samples = 0.7%</text><text y="1">value = [0.0, 0.0, 0.0, 0.0, 1.0]</text><text y="4.36">class = 5</text></g>
<g id="L7y" class="n" transform="translate(465.5,562.5)"><rect x="-22.5" y="-5.9" width="45" height="11.8" rx="1.8"/><text y="-2.36">samples = 0.6%</text><text y="1">value = [0.0, 0.0, 0.0, 0.33, 0.67]</text><text y="4.36">class = 5</text></g>
<g id="L7z" class="n" transform="translate(465.5,627.5)"><rect x="-21" y="-5.9" width="42" height="11.8" rx="1.8"/><text y="-2.36">samples = 0.5%</text><text y="1">value = [0.0, 0.0, 1.0, 0.0, 0.0]</text><text y="4.36">class = 3</text></g>
<g id="L7aa" class="n" transform="translate(465.5,643)"><rect x="-21" y="-5.9" width="42" height="11.8" rx="1.8"/><text y="-2.36">samples = 0.6%</text><text y="1">value = [0.0, 0.0, 0.0, 0.0, 1.0]</text><text y="4.36">class = 5</text></g>
<g id="L7ab" class="n" transform="translate(465.5,659)"><rect x="-21" y="-5.9" width="42" height="11.8" rx="1.8"/><text y="-2.36">samples = 0.5%</text><text y="1">value = [0.0, 0.0, 1.0, 0.0, 0.0]</text><text y="4.36">class = 3</text></g>
<g id="L7ac" class="n" transform="translate(465.5,675)"><rect x="-22.5" y="-5.9" width="45" height="11.8" rx="1.8"/><text y="-2.36">samples = 0.6%</text><text y="1">value = [0.0, 0.0, 0.33, 0.67, 0.0]</text><text y="4.36">class = 4</text></g>
<g id="L7ad" class="n" transform="translate(465.5,691.5)"><rect x="-22.5" y="-5.9" width="45" height="11.8" rx="1.8"/><text y="-2.36">samples = 0.7%</text><text y="1">value = [0.0, 0.0, 0.0, 0.25, 0.75]</text><text y="4.36">class = 5</text></g>
<g id="L7ae" class="n" transform="translate(465.5,707)"><rect x="-21" y="-5.9" width="42" height="11.8" rx="1.8"/><text y="-2.36">samples = 0.5%</text><text y="1">value = [0.0, 0.0, 0.0, 1.0, 0.0]</text><text y="4.36">class = 4</text></g>
<g id="L7af" class="n" transform="translate(465.5,722.5)"><rect x="-22.5" y="-5.9" width="45" height="11.8" rx="1.8"/><text y="-2.36">samples = 0.7%</text><text y="1">value = [0.0, 0.0, 0.0, 0.25, 0.75]</text><text y="4.36">class = 5</text></g>
<g id="L7ag" class="n" transform="translate(465.5,738.5)"><rect x="-21" y="-5.9" width="42" height="11.8" rx="1.8"/><text y="-2.36">samples = 1.1%</text><text y="1">value = [0.0, 0.0, 0.0, 0.0, 1.0]</text><text y="4.36">class = 5</text></g>

<g id="L8a" class="n" transform="translate(524.5,36.5)"><rect x="-21" y="-5.9" width="42" height="11.8" rx="1.8"/><text y="-2.36">samples = 0.7%</text><text y="1">value = [1.0, 0.0, 0.0, 0.0, 0.0]</text><text y="4.36">class = 1</text></g>
<g id="L8b" class="n" transform="translate(524.5,53.5)"><rect x="-22.5" y="-5.9" width="45" height="11.8" rx="1.8"/><text y="-2.36">samples = 0.9%</text><text y="1">value = [0.67, 0.33, 0.0, 0.0, 0.0]</text><text y="4.36">class = 1</text></g>
<g id="L8c" class="n" transform="translate(524.5,74.5)"><rect x="-22.5" y="-5.9" width="45" height="11.8" rx="1.8"/><text y="-2.36">samples = 0.9%</text><text y="1">value = [0.67, 0.33, 0.0, 0.0, 0.0]</text><text y="4.36">class = 1</text></g>
<g id="L8d" class="n" transform="translate(524.5,91)"><rect x="-21" y="-5.9" width="42" height="11.8" rx="1.8"/><text y="-2.36">samples = 1.2%</text><text y="1">value = [0.0, 1.0, 0.0, 0.0, 0.0]</text><text y="4.36">class = 2</text></g>
<g id="L8e" class="n" transform="translate(524.5,205.5)"><rect x="-21" y="-5.9" width="42" height="11.8" rx="1.8"/><text y="-2.36">samples = 2.0%</text><text y="1">value = [0.0, 0.0, 1.0, 0.0, 0.0]</text><text y="4.36">class = 3</text></g>
<g id="L8f" class="n" transform="translate(524.5,221.5)"><rect x="-22.5" y="-5.9" width="45" height="11.8" rx="1.8"/><text y="-2.36">samples = 0.7%</text><text y="1">value = [0.0, 0.25, 0.75, 0.0, 0.0]</text><text y="4.36">class = 3</text></g>
</svg>
